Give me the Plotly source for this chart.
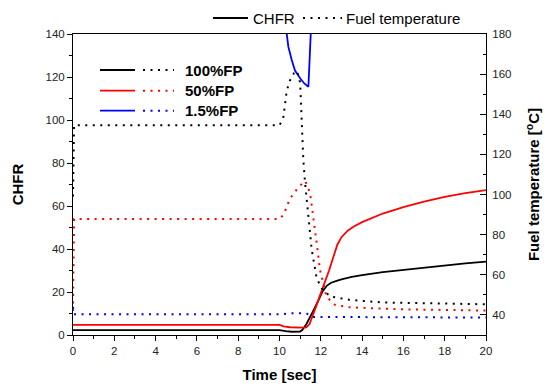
import plotly.graph_objects as go

# ---------------- data ----------------
# CHFR (left axis)
t_chfr_100 = [0, 10.0, 10.3, 10.6, 11.0, 11.1, 11.3, 11.5, 11.7, 11.9, 12.0, 12.1, 12.3, 12.5, 12.8, 13.0, 13.5, 14, 15, 16, 17, 18, 19, 20]
chfr_100 = [2.3, 2.3, 1.8, 1.5, 1.6, 2.3, 5.0, 8.5, 12.5, 16.5, 18.5, 20.5, 23.0, 24.3, 25.3, 25.9, 27.0, 27.9, 29.2, 30.2, 31.4, 32.5, 33.3, 34.1]

t_chfr_50 = [0, 10.0, 10.2, 10.5, 11.0, 11.3, 11.45, 11.6, 11.8, 12.0, 12.2, 12.4, 12.6, 12.8, 13.0, 13.3, 13.6, 14, 15, 16, 17, 18, 19, 20]
chfr_50 = [4.7, 4.7, 4.0, 3.6, 3.4, 3.5, 5.0, 8.5, 14.0, 19.5, 24.5, 30.0, 36.0, 42.0, 45.5, 48.5, 50.5, 52.5, 56.5, 59.5, 62.0, 64.3, 66.0, 67.4]

t_chfr_15 = [0, 10.0, 10.35, 10.43, 10.59, 10.75, 11.0, 11.2, 11.4, 11.48, 11.53, 11.56, 11.65, 20]
chfr_15 = [170, 170, 140, 134, 128, 123, 119.4, 117, 115.5, 128, 139, 145, 170, 170]

# Fuel temperature (right axis, degC)
t_ft_100 = [0, 0.05, 10.0, 10.18, 10.35, 10.5, 10.7, 10.85, 11.0, 11.07, 11.15, 11.23, 11.4, 11.56, 11.8, 12.04, 12.45, 13.4, 15, 17.5, 20]
ft_100 = [99, 134.5, 134.5, 138, 151.7, 156.7, 160.5, 161.6, 155.8, 134, 118, 106.7, 89, 72.5, 58.3, 53.3, 49.2, 47.5, 46.2, 45.6, 45.3]

t_ft_50 = [0, 0.05, 10.0, 10.2, 10.5, 10.83, 11.1, 11.25, 11.48, 11.64, 11.8, 11.96, 12.28, 12.69, 13.4, 15.8, 20]
ft_50 = [42, 87.8, 87.8, 90, 97.8, 102.5, 105.5, 106.7, 100.8, 89, 75.8, 62.5, 49, 45, 43.8, 42.8, 42.2]

t_ft_15 = [0, 0.05, 10.0, 10.5, 11.3, 11.6, 20]
ft_15 = [44, 40.3, 40.3, 40.8, 40.8, 39.0, 38.7]

series_names = ["100%FP", "50%FP", "1.5%FP"]
series_colors = ["#000000", "#ff0000", "#0000ff"]

x_ticks = [0, 2, 4, 6, 8, 10, 12, 14, 16, 18, 20]
y_ticks = [0, 20, 40, 60, 80, 100, 120, 140]
y2_ticks = [40, 60, 80, 100, 120, 140, 160, 180]

# ---------------- figure ----------------
DOT = "2px,5.5px"
fig = go.Figure()

chfr = [(t_chfr_100, chfr_100), (t_chfr_50, chfr_50), (t_chfr_15, chfr_15)]
ft = [(t_ft_100, ft_100), (t_ft_50, ft_50), (t_ft_15, ft_15)]

for (tt, yy), name, col in zip(ft, series_names, series_colors):
    fig.add_trace(go.Scatter(x=tt, y=yy, mode="lines", yaxis="y2", name=name + " fuel",
                             line=dict(color=col, width=2, dash=DOT), showlegend=False))
for (tt, yy), name, col in zip(chfr, series_names, series_colors):
    fig.add_trace(go.Scatter(x=tt, y=yy, mode="lines", name=name + " CHFR",
                             line=dict(color=col, width=1.8), showlegend=False))

FONT = "Liberation Sans, Arial, sans-serif"
tickfont = dict(family=FONT, size=11.5, color="#222")
titlefont = dict(family=FONT, size=15, color="#000")

L, R, T, B = 73, 61, 34, 51
W, H = 547, 386
PW, PH = W - L - R, H - T - B


def px(xp):
    return (xp - L) / PW


def py(yp):
    return (H - B - yp) / PH


shapes = []
annotations = []
# inner legend
rows = [70, 90.7, 110.7]
for r, name, col in zip(rows, series_names, series_colors):
    shapes.append(dict(type="line", xref="paper", yref="paper", x0=px(100), x1=px(135), y0=py(r), y1=py(r),
                       line=dict(color=col, width=1.8)))
    shapes.append(dict(type="line", xref="paper", yref="paper", x0=px(143), x1=px(174), y0=py(r), y1=py(r),
                       line=dict(color=col, width=2, dash=DOT)))
    annotations.append(dict(text="<b>%s</b>" % name, xref="paper", yref="paper", x=px(183), y=py(r),
                            xanchor="left", yanchor="middle", showarrow=False,
                            font=dict(family=FONT, size=15, color="#000")))
# top legend
ly = 18
shapes.append(dict(type="line", xref="paper", yref="paper", x0=px(213), x1=px(248), y0=py(ly), y1=py(ly),
                   line=dict(color="#000", width=1.8)))
annotations.append(dict(text="CHFR", xref="paper", yref="paper", x=px(251), y=py(ly),
                        xanchor="left", yanchor="middle", showarrow=False,
                        font=dict(family=FONT, size=15, color="#000")))
shapes.append(dict(type="line", xref="paper", yref="paper", x0=px(303), x1=px(342), y0=py(ly), y1=py(ly),
                   line=dict(color="#000", width=2, dash=DOT)))
annotations.append(dict(text="Fuel temperature", xref="paper", yref="paper", x=px(344), y=py(ly),
                        xanchor="left", yanchor="middle", showarrow=False,
                        font=dict(family=FONT, size=15, color="#000")))

fig.update_layout(
    width=W, height=H, autosize=False,
    margin=dict(l=L, r=R, t=T, b=B, pad=0, autoexpand=False),
    paper_bgcolor="white", plot_bgcolor="white",
    showlegend=False,
    shapes=shapes, annotations=annotations,
    xaxis=dict(range=[0, 20], tickvals=x_ticks, ticks="outside", ticklen=5, tickwidth=1, tickcolor="#000",
               minor=dict(dtick=1, tick0=0, ticks="outside", ticklen=3, tickcolor="#000"),
               showline=True, linecolor="#000", linewidth=1, mirror=True, automargin=False,
               showgrid=False, zeroline=False, tickfont=tickfont,
               title=dict(text="<b>Time [sec]</b>", font=titlefont, standoff=13)),
    yaxis=dict(range=[0, 140], tickvals=y_ticks, ticks="outside", ticklen=5, tickwidth=1, tickcolor="#000",
               minor=dict(dtick=10, tick0=0, ticks="outside", ticklen=3, tickcolor="#000"),
               showline=True, linecolor="#000", linewidth=1, automargin=False,
               showgrid=False, zeroline=False, tickfont=tickfont,
               title=dict(text="<b>CHFR</b>", font=titlefont, standoff=18)),
    yaxis2=dict(range=[30, 180], tickvals=y2_ticks, overlaying="y", side="right",
                ticks="inside", ticklen=6, tickwidth=1, tickcolor="#000",
                minor=dict(dtick=10, tick0=0, ticks="inside", ticklen=3, tickcolor="#000"),
                showline=True, linecolor="#000", linewidth=1, automargin=False,
                showgrid=False, zeroline=False, tickfont=tickfont, ticklabelstandoff=3,
                title=dict(text="<b>Fuel temperature [<sup>o</sup>C]</b>", font=titlefont, standoff=18)),
)

fig.write_html("out.html", config={"displayModeBar": False},
               post_script="document.body.style.margin='0';document.body.style.padding='0';")
